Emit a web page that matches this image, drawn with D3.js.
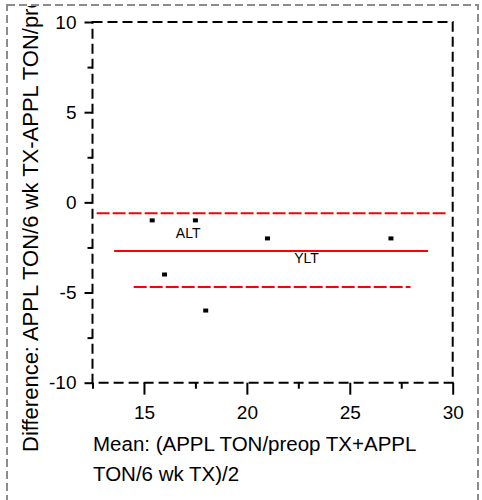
<!DOCTYPE html>
<html>
<head>
<meta charset="utf-8">
<script src="https://cdn.jsdelivr.net/npm/d3@7"></script>
<style>
  body { margin: 0; background: #fff; }
  text { font-family: "Liberation Sans", Arial, sans-serif; fill: #000; }
</style>
</head>
<body>
<div id="chart"></div>
<script>
var width = 482, height = 500;

// data
var meanX = [15.4, 17.5, 21, 27, 16, 18];
var diffY = [-1, -1, -2, -2, -4, -6];

var refLines = ["upper", "mean", "lower"];
var refY = [-0.6, -2.7, -4.7];
var refX0 = [12.7, 13.55, 14.5];
var refX1 = [29.7, 28.8, 27.95];
var refDashed = [true, false, true];

var noteText = ["ALT", "YLT"];
var noteX = [16.55, 22.3];
var noteY = [-2.0, -3.35];

var xMajor = [15, 20, 25, 30];
var xMinor = [12.5, 17.5, 22.5, 27.5];
var yMajor = [-10, -5, 0, 5, 10];
var yMinor = [-7.5, -2.5, 2.5, 7.5];

var x = d3.scaleLinear().domain([12.5, 30]).range([92.5, 452.7]);
var y = d3.scaleLinear().domain([-10, 10]).range([382.7, 22]);

var svg = d3.select("#chart").append("svg")
  .attr("width", width)
  .attr("height", height);

svg.append("rect").attr("width", width).attr("height", height).attr("fill", "#fff");

svg.append("clipPath").attr("id", "inner")
  .append("rect").attr("x", 8).attr("y", 6).attr("width", 469).attr("height", 494);

// outer grey dashed frame
svg.append("rect")
  .attr("x", 7).attr("y", 5).attr("width", 471).attr("height", 510)
  .attr("fill", "none").attr("stroke", "#8c8c8c").attr("stroke-width", 2)
  .attr("stroke-dasharray", "8,4");

// plot frame
svg.append("rect")
  .attr("x", x(12.5)).attr("y", y(10))
  .attr("width", x(30) - x(12.5)).attr("height", y(-10) - y(10))
  .attr("fill", "none").attr("stroke", "#000").attr("stroke-width", 2)
  .attr("stroke-dasharray", "10,5");

// x axis
var xAxis = svg.append("g").attr("transform", "translate(0," + y(-10) + ")");
xAxis.call(d3.axisBottom(x).tickValues(xMinor).tickSize(6).tickFormat(""));
var xMaj = svg.append("g").attr("transform", "translate(0," + y(-10) + ")");
xMaj.call(d3.axisBottom(x).tickValues(xMajor).tickSize(12).tickPadding(11)
  .tickFormat(function(d) { return String(d); }));

// y axis
var yAxis = svg.append("g").attr("transform", "translate(" + x(12.5) + ",0)");
yAxis.call(d3.axisLeft(y).tickValues(yMinor).tickSize(5).tickFormat(""));
var yMaj = svg.append("g").attr("transform", "translate(" + x(12.5) + ",0)");
yMaj.call(d3.axisLeft(y).tickValues(yMajor).tickSize(8).tickPadding(8)
  .tickFormat(function(d) { return String(d); }));

svg.selectAll(".domain").remove();
svg.selectAll(".tick line").attr("stroke", "#000").attr("stroke-width", 2);
svg.selectAll(".tick text")
  .attr("fill", "#000")
  .style("font-family", "'Liberation Sans', Arial, sans-serif")
  .style("font-size", "19px");

// reference lines
svg.append("g").selectAll("line")
  .data(refLines)
  .enter().append("line")
  .attr("x1", function(d, i) { return x(refX0[i]); })
  .attr("x2", function(d, i) { return x(refX1[i]); })
  .attr("y1", function(d, i) { return y(refY[i]); })
  .attr("y2", function(d, i) { return y(refY[i]); })
  .attr("stroke", "#ff0000")
  .attr("stroke-width", 2)
  .attr("stroke-dasharray", function(d, i) { return refDashed[i] ? "13,3" : null; });

// points
svg.append("g").selectAll("rect")
  .data(meanX)
  .enter().append("rect")
  .attr("x", function(d) { return x(d) - 2.5; })
  .attr("y", function(d, i) { return y(diffY[i]) - 2; })
  .attr("width", 5).attr("height", 4)
  .attr("fill", "#000");

// notes
svg.append("g").selectAll("text")
  .data(noteText)
  .enter().append("text")
  .attr("x", function(d, i) { return x(noteX[i]); })
  .attr("y", function(d, i) { return y(noteY[i]); })
  .style("font-size", "14px")
  .text(function(d) { return d; });

// axis titles
svg.append("text")
  .attr("x", 93).attr("y", 451)
  .style("font-size", "20.5px")
  .text("Mean: (APPL TON/preop TX+APPL");
svg.append("text")
  .attr("x", 93).attr("y", 481)
  .style("font-size", "20.5px")
  .text("TON/6 wk TX)/2");

svg.append("g").attr("clip-path", "url(#inner)")
  .append("text")
  .attr("transform", "translate(38,452) rotate(-90)")
  .style("font-size", "22px")
  .text("Difference: APPL TON/6 wk TX-APPL TON/preop TX");
</script>
</body>
</html>
